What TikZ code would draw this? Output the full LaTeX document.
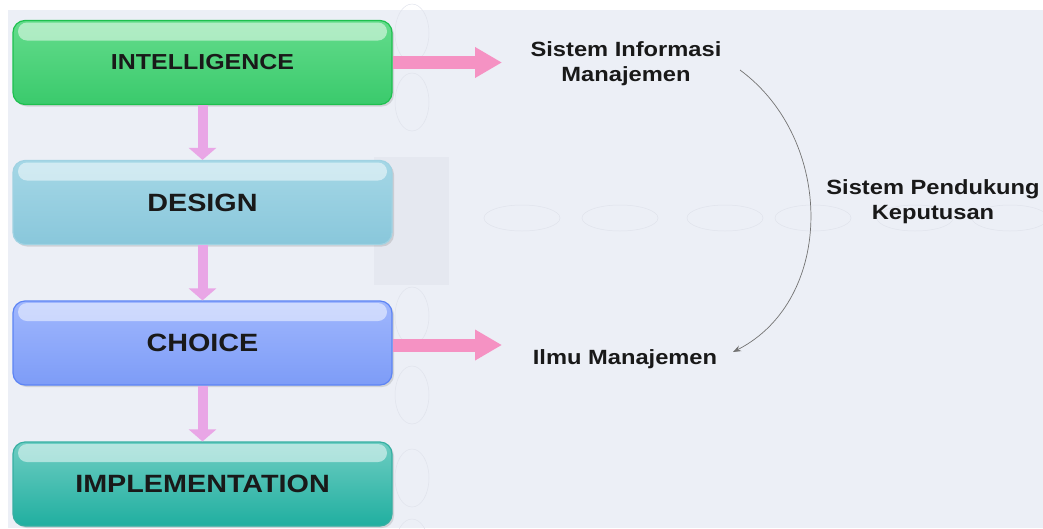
\documentclass[tikz,border=0pt]{standalone}
\usepackage{fontspec}
\setmainfont{Liberation Sans}[FakeStretch=1.15]
\usetikzlibrary{arrows.meta, shadows, calc, backgrounds, fadings}

\definecolor{bgpanel}{HTML}{ECEFF6}
\definecolor{bgshade}{HTML}{E5E8F0}
\definecolor{ghost}{HTML}{E0E3EC}
\definecolor{downpink}{HTML}{E9A6E6}
\definecolor{rightpink}{HTML}{F592C3}
\definecolor{intelB}{HTML}{1EC04F}
\definecolor{designB}{HTML}{A0D2E2}
\definecolor{choiceB}{HTML}{5D84F4}
\definecolor{implB}{HTML}{36AFA2}

\tikzset{
    stage/.style={draw, line width=1.2pt, rounded corners=12pt,
        minimum width=379pt, minimum height=84pt, inner sep=0pt,
        font=\bfseries\fontsize{25}{30}\selectfont, text=black!90,
        drop shadow={shadow xshift=2pt, shadow yshift=-2pt, opacity=.25},
        path picture={
            \fill[white, opacity=.5, rounded corners=9pt]
                ($(path picture bounding box.north west)+(5pt,-2pt)$) rectangle
                ($(path picture bounding box.north east)+(-5pt,-20pt)$);
        }
    },
    downarr/.style={draw=downpink, line width=10pt, -{Triangle[width=27pt,length=12pt]}},
    rightarr/.style={draw=rightpink, line width=13pt, -{Triangle[width=29pt,length=27pt]}},
    sidetext/.style={align=center, font=\bfseries\fontsize{20.6}{25}\selectfont, text=black!90},
    loopline/.style={draw=black!55, line width=0.7pt, -{Stealth[length=8pt,width=6pt]}}
}

\begin{document}
\begin{tikzpicture}[x=1pt, y=-1pt]
    \useasboundingbox (0,0) rectangle (1043,528);
    % background
    \fill[bgpanel] (8,10) rectangle (1043,528);
    \fill[bgshade] (374,157) rectangle (449,285);
    \foreach \y in {33,102,316,395,478,548}
        \draw[ghost, line width=0.5pt] (412,\y) ellipse [x radius=17, y radius=29];
    \foreach \x in {522,620,725,813,915,1010}
        \draw[ghost, line width=0.5pt] (\x,218) ellipse [x radius=38, y radius=13];

    % stages
    \node[stage, draw=intelB, top color={rgb,255:red,100;green,220;blue,140}, bottom color={rgb,255:red,58;green,202;blue,108},
          font=\bfseries\fontsize{21.7}{26}\selectfont] (intel) at (202.5,62.5) {INTELLIGENCE};
    \node[stage, draw=designB, top color={rgb,255:red,165;green,215;blue,230}, bottom color={rgb,255:red,137;green,199;blue,219}] (design) at (202.5,202.5) {DESIGN};
    \node[stage, draw=choiceB, top color={rgb,255:red,160;green,183;blue,253}, bottom color={rgb,255:red,125;green,156;blue,247}] (choice) at (202.5,343) {CHOICE};
    \node[stage, draw=implB, top color={rgb,255:red,110;green,205;blue,194}, bottom color={rgb,255:red,32;green,175;blue,160}] (impl) at (202.5,484) {IMPLEMENTATION};

    % side texts
    \node[sidetext] (sim) at (626,64) {Sistem Informasi\\Manajemen};
    \node[sidetext] (ilmu) at (625,359) {Ilmu Manajemen};
    \node[sidetext] (spk) at (933,202) {Sistem Pendukung\\Keputusan};
    \coordinate (simTip) at (502,62.5);
    \coordinate (ilmuTip) at (502,345);
    \coordinate (loopA) at (740,70);
    \coordinate (loopB) at (733,352);

    % arrows
    \draw[downarr] (intel.south) -- (design.north);
    \draw[downarr] (design.south) -- (choice.north);
    \draw[downarr] (choice.south) -- (impl.north);
    \draw[rightarr] (intel.east) -- (simTip);
    \draw[rightarr] (choice.east |- ilmuTip) -- (ilmuTip);
    \draw[loopline] (loopA) .. controls (835,140) and (835,300) .. (loopB);
\end{tikzpicture}
\end{document}
